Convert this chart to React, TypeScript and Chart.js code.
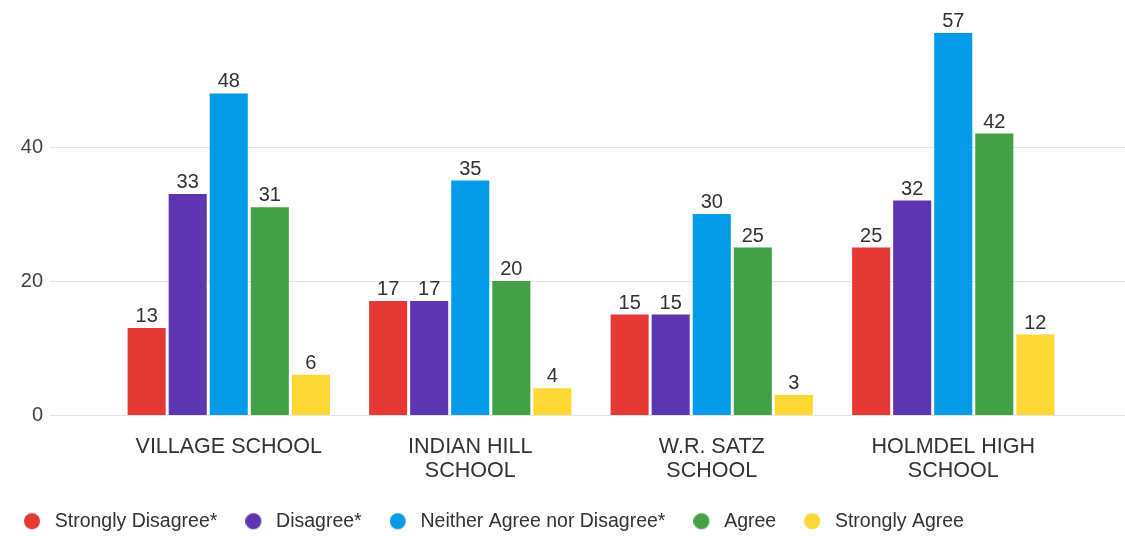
import React, { useEffect, useRef } from 'react';
import { Chart, registerables } from 'chart.js';

Chart.register(...registerables);

const categories: string[][] = [
  ['VILLAGE SCHOOL'],
  ['INDIAN HILL', 'SCHOOL'],
  ['W.R. SATZ', 'SCHOOL'],
  ['HOLMDEL HIGH', 'SCHOOL'],
];
const seriesNames = [
  'Strongly Disagree*',
  'Disagree*',
  'Neither Agree nor Disagree*',
  'Agree',
  'Strongly Agree',
];
const stronglyDisagree = [13, 17, 15, 25];
const disagree = [33, 17, 15, 32];
const neither = [48, 35, 30, 57];
const agree = [31, 20, 25, 42];
const stronglyAgree = [6, 4, 3, 12];
const seriesColors = ['#E53935', '#5E35B1', '#039BE5', '#43A047', '#FDD835'];
const yTickValues = [0, 20, 40];
const yMax = 60;

const FONT = '"Liberation Sans", Arial, sans-serif';

function dot(color: string): HTMLCanvasElement {
  const c = document.createElement('canvas');
  c.width = 21;
  c.height = 18;
  const g = c.getContext('2d')!;
  g.fillStyle = color;
  g.beginPath();
  g.arc(8, 9, 8, 0, Math.PI * 2);
  g.fill();
  return c;
}

const gridPlugin = {
  id: 'customGrid',
  beforeDatasetsDraw(chart: any) {
    const ys = chart.scales.y;
    const ctx = chart.ctx;
    ctx.save();
    ctx.strokeStyle = '#e4e4e4';
    ctx.lineWidth = 1;
    yTickValues.forEach((v) => {
      const py = Math.round(ys.getPixelForValue(v)) + 0.5;
      ctx.beginPath();
      ctx.moveTo(50, py);
      ctx.lineTo(chart.width, py);
      ctx.stroke();
    });
    ctx.restore();
  },
};

const valueLabelPlugin = {
  id: 'valueLabels',
  afterDatasetsDraw(chart: any) {
    const ctx = chart.ctx;
    ctx.save();
    ctx.font = `20px ${FONT}`;
    ctx.fillStyle = '#333333';
    ctx.textAlign = 'center';
    ctx.textBaseline = 'alphabetic';
    chart.data.datasets.forEach((ds: any, i: number) => {
      const meta = chart.getDatasetMeta(i);
      meta.data.forEach((el: any, j: number) => {
        ctx.fillText(String(ds.data[j]), el.x, el.y - 6);
      });
    });
    ctx.restore();
  },
};

export default function App() {
  const ref = useRef<HTMLCanvasElement | null>(null);

  useEffect(() => {
    if (!ref.current) return;
    const values = [stronglyDisagree, disagree, neither, agree, stronglyAgree];
    const chart = new Chart(ref.current, {
      type: 'bar',
      data: {
        labels: categories,
        datasets: seriesNames.map((name, i) => ({
          label: name,
          data: values[i],
          backgroundColor: seriesColors[i],
          borderWidth: 0,
          categoryPercentage: 0.85,
          barPercentage: 0.927,
        })),
      },
      options: {
        animation: false,
        responsive: false,
        maintainAspectRatio: false,
        layout: { padding: { left: -4, right: 51, top: 13, bottom: -5 } },
        scales: {
          x: {
            grid: { display: false, drawTicks: false },
            border: { display: false },
            ticks: {
              color: '#333333',
              font: { family: FONT, size: 21.5, lineHeight: 1.116 },
              padding: 20,
              maxRotation: 0,
              autoSkip: false,
            },
            afterFit: (s: any) => {
              s.height = 68.5;
            },
          },
          y: {
            min: 0,
            max: yMax,
            grid: { display: false, drawTicks: false },
            border: { display: false },
            ticks: {
              stepSize: 20,
              color: '#444444',
              font: { family: FONT, size: 20 },
              padding: 65,
              callback: (v: any) => (yTickValues.includes(Number(v)) ? String(v) : ''),
            },
            afterFit: (s: any) => {
              s.width = 112;
              s.paddingTop = 10;
              s.paddingBottom = 10;
            },
          },
        },
        plugins: {
          tooltip: { enabled: false },
          legend: {
            position: 'bottom',
            align: 'start',
            labels: {
              usePointStyle: true,
              pointStyleWidth: 21,
              padding: 28,
              color: '#333333',
              font: { family: FONT, size: 19.5 },
              generateLabels: (ch: any) =>
                ch.data.datasets.map((ds: any, i: number) => ({
                  text: ds.label,
                  fillStyle: seriesColors[i],
                  strokeStyle: seriesColors[i],
                  lineWidth: 0,
                  pointStyle: dot(seriesColors[i]),
                  hidden: false,
                  datasetIndex: i,
                  fontColor: '#333333',
                })),
            },
          },
        },
      },
      plugins: [gridPlugin, valueLabelPlugin],
    } as any);
    return () => chart.destroy();
  }, []);

  return (
    <div style={{ position: 'absolute', left: 0, top: 0, width: 1125, height: 536, background: '#fff' }}>
      <canvas ref={ref} width={1125} height={536} style={{ display: 'block' }} />
    </div>
  );
}
